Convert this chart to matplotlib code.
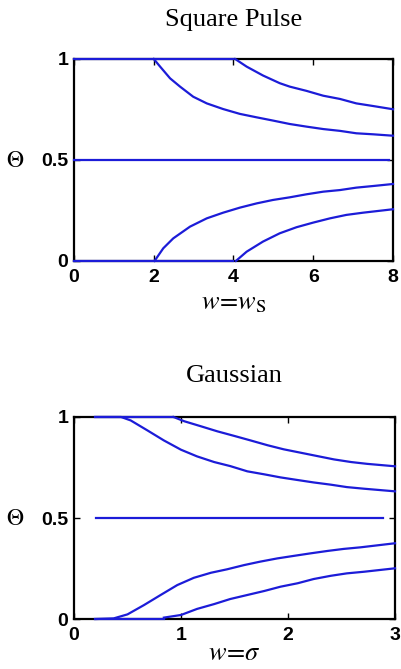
import matplotlib.pyplot as plt
import numpy as np

plt.rcParams['mathtext.fontset'] = 'stix'

# Square pulse: theta vs w = w_S
sq_flat_x = [0, 4]
sq_mid_x = [0, 7.9]
sq_a_up_x = [2.0, 2.16, 2.41, 2.66, 2.99, 3.33, 3.74, 4.16, 4.58, 4.99, 5.41, 5.83, 6.25, 6.67, 7.08, 7.5, 8.0]
sq_a_up = [1.0, 0.962, 0.904, 0.863, 0.813, 0.78, 0.752, 0.728, 0.711, 0.695, 0.678, 0.665, 0.653, 0.644, 0.632, 0.627, 0.62]
sq_b_up_x = [4.04, 4.33, 4.74, 5.16, 5.41, 5.83, 6.25, 6.67, 7.08, 7.5, 8.0]
sq_b_up = [1.0, 0.962, 0.918, 0.88, 0.863, 0.842, 0.818, 0.802, 0.78, 0.767, 0.751]
sq_a_lo_x = [2.02, 2.24, 2.49, 2.91, 3.33, 3.74, 4.16, 4.58, 4.99, 5.41, 5.83, 6.25, 6.67, 7.08, 7.5, 8.0]
sq_a_lo = [0.0, 0.063, 0.112, 0.17, 0.211, 0.239, 0.264, 0.285, 0.302, 0.315, 0.33, 0.343, 0.351, 0.363, 0.371, 0.381]
sq_b_lo_x = [4.06, 4.33, 4.74, 5.16, 5.58, 6.0, 6.42, 6.83, 7.25, 8.0]
sq_b_lo = [0.0, 0.046, 0.096, 0.137, 0.167, 0.19, 0.211, 0.228, 0.239, 0.256]

# Gaussian: theta vs w = sigma
ga_top_x = [0.2, 0.93]
ga_bot_x = [0.2, 0.84]
ga_mid_x = [0.21, 2.89]
ga_a_up_x = [0.2, 0.44, 0.53, 0.685, 0.84, 1.0, 1.15, 1.31, 1.46, 1.62, 1.78, 1.93, 2.09, 2.24, 2.4, 2.55, 2.71, 3.0]
ga_a_up = [1.0, 1.0, 0.983, 0.934, 0.884, 0.838, 0.805, 0.777, 0.757, 0.731, 0.716, 0.701, 0.688, 0.676, 0.665, 0.653, 0.645, 0.632]
ga_b_up_x = [0.93, 1.03, 1.18, 1.34, 1.5, 1.65, 1.81, 1.96, 2.12, 2.27, 2.43, 2.59, 2.74, 3.0]
ga_b_up = [1.0, 0.979, 0.955, 0.929, 0.906, 0.884, 0.86, 0.84, 0.823, 0.807, 0.79, 0.777, 0.768, 0.756]
ga_a_lo_x = [0.2, 0.37, 0.5, 0.654, 0.81, 0.965, 1.12, 1.28, 1.43, 1.59, 1.74, 1.9, 2.06, 2.21, 2.37, 2.52, 2.68, 3.0]
ga_a_lo = [0.0, 0.003, 0.023, 0.069, 0.119, 0.168, 0.204, 0.229, 0.246, 0.267, 0.284, 0.3, 0.313, 0.325, 0.337, 0.347, 0.355, 0.375]
ga_b_lo_x = [0.84, 1.0, 1.15, 1.31, 1.46, 1.62, 1.78, 1.93, 2.09, 2.24, 2.4, 2.55, 2.71, 3.0]
ga_b_lo = [0.007, 0.02, 0.05, 0.074, 0.099, 0.119, 0.139, 0.16, 0.177, 0.198, 0.214, 0.226, 0.234, 0.251]

blue = '#1c1cd8'
lw = 1.6

fig = plt.figure(figsize=(4.01, 6.69), dpi=100)
ax1 = fig.add_axes([0.1845, 0.6099, 0.7955, 0.302])
ax2 = fig.add_axes([0.1845, 0.0747, 0.8005, 0.302])


def style(ax, xlim, xticks):
    ax.set_xlim(*xlim)
    ax.set_ylim(0, 1)
    ax.set_xticks(xticks)
    ax.set_xticklabels([str(t) for t in xticks])
    ax.set_yticks([0, 0.5, 1])
    ax.set_yticklabels(['0', '0.5', '1'])
    ax.tick_params(direction='in', length=4, width=1, top=True, right=True,
                   labelsize=14, pad=4)
    ax.tick_params(axis='x', pad=6)
    for lab in ax.get_xticklabels() + ax.get_yticklabels():
        lab.set_fontweight('bold')
        lab.set_family('Liberation Sans')
    for sp in ax.spines.values():
        sp.set_linewidth(1.6)


def line(ax, x, y):
    ax.plot(x, y, color=blue, lw=lw, clip_on=False, zorder=3)


# top panel
line(ax1, sq_flat_x, [1, 1])
line(ax1, sq_flat_x, [0, 0])
line(ax1, sq_mid_x, [0.5, 0.5])
line(ax1, sq_a_up_x, sq_a_up)
line(ax1, sq_a_lo_x, sq_a_lo)
line(ax1, sq_b_up_x, sq_b_up)
line(ax1, sq_b_lo_x, sq_b_lo)
style(ax1, (0, 8), [0, 2, 4, 6, 8])
ax1.set_title('Square Pulse', family='Liberation Serif', fontsize=19, pad=24)
ax1.set_xlabel(r'$w\!=\!w_{\mathrm{S}}$', fontsize=19, labelpad=2)

# bottom panel
line(ax2, ga_top_x, [1, 1])
line(ax2, ga_bot_x, [0, 0])
line(ax2, ga_mid_x, [0.5, 0.5])
line(ax2, ga_a_up_x, ga_a_up)
line(ax2, ga_a_lo_x, ga_a_lo)
line(ax2, ga_b_up_x, ga_b_up)
line(ax2, ga_b_lo_x, ga_b_lo)
style(ax2, (0, 3), [0, 1, 2, 3])
ax2.set_title('Gaussian', family='Liberation Serif', fontsize=19, pad=25)
ax2.set_xlabel(r'$w\!=\!\sigma$', fontsize=19, labelpad=-3)

fig.text(0.037, 1 - 160 / 669, r'$\Theta$', fontsize=17, ha='center', va='center')
fig.text(0.037, 1 - 518 / 669, r'$\Theta$', fontsize=17, ha='center', va='center')

fig.savefig('out.png', dpi=100)
